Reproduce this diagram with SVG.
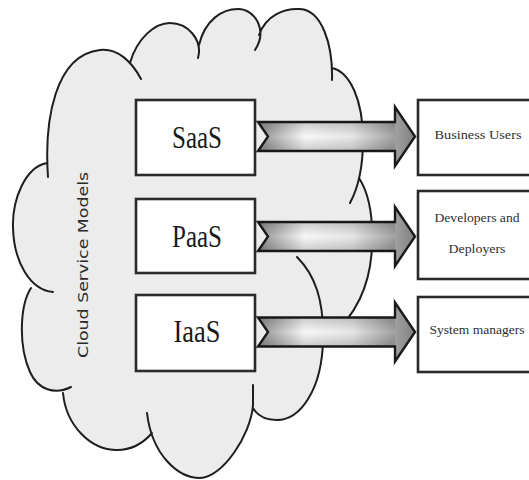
<svg xmlns="http://www.w3.org/2000/svg" width="529" height="480" viewBox="0 0 529 480">
<defs>
<style>
.cloud-fill{fill:#ececec;stroke:none}
.cloud-line{fill:none;stroke:#1e1e1e;stroke-width:2;stroke-linecap:round}
.box{fill:#ffffff;stroke:#2a2a2a;stroke-width:2.6}
.lbl{font-family:"Liberation Serif","Times New Roman",serif;font-size:32px;fill:#1a1a1a;text-anchor:middle}
.rlbl{font-family:"Liberation Serif","Times New Roman",serif;font-size:13px;fill:#2e2e2e;text-anchor:middle}
.vlbl{font-family:"DejaVu Sans","Liberation Sans",sans-serif;font-size:14px;fill:#2a2a2a;text-anchor:middle}
.arrow{fill:url(#gx);stroke:#1a1a1a;stroke-width:2.4;stroke-linejoin:miter}
.shade{fill:url(#gy);stroke:none}
</style>
<linearGradient id="gx" gradientUnits="userSpaceOnUse" x1="258" y1="0" x2="415" y2="0">
<stop offset="0" stop-color="#8e8e8e"/>
<stop offset="0.3" stop-color="#f8f8f8"/>
<stop offset="0.6" stop-color="#e6e6e6"/>
<stop offset="1" stop-color="#808080"/>
</linearGradient>
<linearGradient id="gy" x1="0" y1="0" x2="0" y2="1">
<stop offset="0" stop-color="#000" stop-opacity="0.18"/>
<stop offset="0.5" stop-color="#000" stop-opacity="0"/>
<stop offset="1" stop-color="#000" stop-opacity="0.18"/>
</linearGradient>
<path id="arr" d="M258,-14.5 L395,-14.5 L395,-29.5 L415,0 L395,29.5 L395,14.5 L258,14.5 L268,0 Z"/>
<path id="shaft" d="M258,-14.5 L395,-14.5 L395,14.5 L258,14.5 L268,0 Z"/>
</defs>
<rect width="529" height="480" fill="#ffffff"/>

<g id="cloud">
<path class="cloud-fill" d="M48,177 C44,120 55,55 100,50 C118,48 132,62 141,79 L130,63 C137,38 155,23 170,23 C188,23 203,40 198,58 L199,45 C205,20 222,9 238,9 C255,9 268,30 255,50 L259,35 C266,15 285,8 300,9 C322,10 333,45 332,80 L332,68 C350,72 363,100 363,140 C363,170 357,190 350,203 L359,178 C370,195 373,220 372,245 C371,285 355,318 328,338 L323,340 C322,390 300,420 277,420 C265,420 257,415 253,408 L253,405 C251,435 222,478 200,478 C178,478 152,455 147,413 L152,433 C140,447 128,450 117,450 C90,450 66,425 63,393 L71,387 C55,395 38,390 30,372 C18,345 20,305 31,288 L53,292 C30,290 14,262 13,228 C12,200 25,167 47,163 Z"/>
<path class="cloud-line" d="M48,177 C44,120 55,55 100,50 C118,48 132,62 141,79
M130,63 C137,38 155,23 170,23 C188,23 203,40 198,58
M199,45 C205,20 222,9 238,9 C255,9 268,30 255,50
M259,35 C266,15 285,8 300,9 C322,10 333,45 332,80
M332,68 C350,72 363,100 363,140 C363,170 357,190 350,203
M359,178 C370,195 373,220 372,245 C371,285 355,318 328,338
M297,257 C315,275 324,300 323,340 C322,390 300,420 277,420 C265,420 257,415 253,408
M253,385 L253,405 C251,435 222,478 200,478 C178,478 152,455 147,413
M152,433 C140,447 128,450 117,450 C90,450 66,425 63,393
M31,288 C20,305 18,345 30,372 C38,390 55,395 71,387
M47,163 C25,167 12,200 13,228 C14,262 30,290 53,292"/>
<text class="vlbl" transform="translate(88,265) rotate(-90)" x="0" y="0" textLength="186" lengthAdjust="spacingAndGlyphs">Cloud Service Models</text>
</g>

<g id="saas">
<rect class="box" x="136" y="100" width="119" height="75"/>
<text class="lbl" x="197" y="148" textLength="50" lengthAdjust="spacingAndGlyphs">SaaS</text>
</g>
<g id="paas">
<rect class="box" x="136" y="199" width="119" height="74"/>
<text class="lbl" x="197" y="247" textLength="50" lengthAdjust="spacingAndGlyphs">PaaS</text>
</g>
<g id="iaas">
<rect class="box" x="136" y="295" width="119" height="76"/>
<text class="lbl" x="197" y="342" textLength="47" lengthAdjust="spacingAndGlyphs">IaaS</text>
</g>

<g id="connectors">
<g transform="translate(0,136.5)"><use href="#arr" class="arrow"/><use href="#shaft" class="shade"/></g>
<g transform="translate(0,236.5)"><use href="#arr" class="arrow"/><use href="#shaft" class="shade"/></g>
<g transform="translate(0,332)"><use href="#arr" class="arrow"/><use href="#shaft" class="shade"/></g>
</g>

<g id="business-users">
<rect class="box" x="418" y="100" width="120" height="75"/>
<text class="rlbl" x="478" y="139" textLength="87" lengthAdjust="spacingAndGlyphs">Business Users</text>
</g>
<g id="developers-deployers">
<rect class="box" x="418" y="191" width="120" height="88"/>
<text class="rlbl" x="477" y="222" textLength="85" lengthAdjust="spacingAndGlyphs">Developers and</text>
<text class="rlbl" x="477" y="253" textLength="57" lengthAdjust="spacingAndGlyphs">Deployers</text>
</g>
<g id="system-managers">
<rect class="box" x="418" y="297" width="120" height="75"/>
<text class="rlbl" x="477" y="334" textLength="95" lengthAdjust="spacingAndGlyphs">System managers</text>
</g>
</svg>
